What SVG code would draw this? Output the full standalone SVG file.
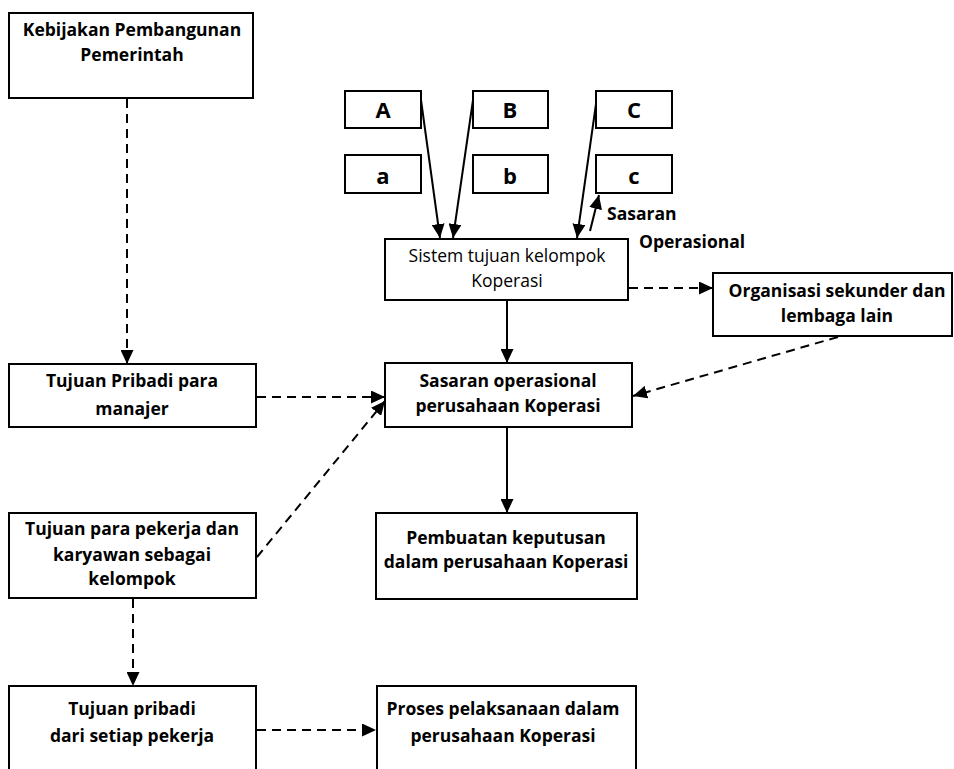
<svg xmlns="http://www.w3.org/2000/svg" width="954" height="769" viewBox="0 0 954 769">
  <style>
    .box { fill: #fff; stroke: #000; stroke-width: 2; }
    .t { font-family: "Open Sans", "Liberation Sans", sans-serif; font-size: 17.5px; font-weight: bold; fill: #000; text-anchor: middle; }
    .r { font-weight: normal; }
    .big { font-size: 22px; }
    .lbl { text-anchor: start; }
    .solid { stroke: #000; stroke-width: 2; fill: none; marker-end: url(#arrow); }
    .dash { stroke: #000; stroke-width: 2; fill: none; stroke-dasharray: 9 6; marker-end: url(#arrow); }
  </style>
  <defs>
    <marker id="arrow" markerUnits="userSpaceOnUse" markerWidth="15" markerHeight="13" refX="14" refY="6.5" orient="auto">
      <path d="M0,0 L14,6.5 L0,13 Z" fill="#000"/>
    </marker>
  </defs>

  <rect width="954" height="769" fill="#fff"/>

  <!-- connectors -->
  <g id="connectors">
    <line class="dash" x1="127" y1="99" x2="127" y2="364"/>
    <line class="solid" x1="421" y1="100" x2="440" y2="238"/>
    <line class="solid" x1="473" y1="100" x2="453" y2="238"/>
    <line class="solid" x1="596" y1="104" x2="577" y2="238"/>
    <line class="solid" x1="590" y1="231" x2="599" y2="195"/>
    <line class="dash" x1="629" y1="288" x2="713" y2="288"/>
    <line class="solid" x1="507" y1="301" x2="507" y2="363"/>
    <line class="dash" x1="838" y1="337" x2="633" y2="396"/>
    <line class="dash" x1="257" y1="397" x2="385" y2="397"/>
    <line class="dash" x1="257" y1="557" x2="385" y2="401"/>
    <line class="solid" x1="507" y1="428" x2="507" y2="513"/>
    <line class="dash" x1="133" y1="599" x2="133" y2="686"/>
    <line class="dash" x1="257" y1="730" x2="376" y2="730"/>
  </g>

  <g id="kebijakan">
    <rect class="box" x="9" y="13" width="244" height="85"/>
    <text class="t" x="132" y="36">Kebijakan Pembangunan</text>
    <text class="t" x="132" y="61">Pemerintah</text>
  </g>

  <g id="A"><rect class="box" x="345" y="91" width="76" height="37"/><text class="t big" x="383" y="118">A</text></g>
  <g id="B"><rect class="box" x="473" y="91" width="75" height="37"/><text class="t big" x="510" y="118">B</text></g>
  <g id="C"><rect class="box" x="596" y="91" width="76" height="37"/><text class="t big" x="634" y="118">C</text></g>
  <g id="a"><rect class="box" x="345" y="155" width="76" height="38"/><text class="t big" x="383" y="184">a</text></g>
  <g id="b"><rect class="box" x="473" y="155" width="75" height="38"/><text class="t big" x="510" y="184">b</text></g>
  <g id="c"><rect class="box" x="596" y="155" width="76" height="38"/><text class="t big" x="634" y="184">c</text></g>

  <g id="sasaran-label">
    <text class="t lbl" x="607" y="220">Sasaran</text>
    <text class="t lbl" x="639" y="248">Operasional</text>
  </g>

  <g id="sistem">
    <rect class="box" x="385" y="239" width="243" height="61"/>
    <text class="t r" x="507" y="262">Sistem tujuan kelompok</text>
    <text class="t r" x="507" y="287">Koperasi</text>
  </g>

  <g id="organisasi">
    <rect class="box" x="713" y="273" width="239" height="63"/>
    <text class="t" x="837" y="297">Organisasi sekunder dan</text>
    <text class="t" x="837" y="322">lembaga lain</text>
  </g>

  <g id="manajer">
    <rect class="box" x="9" y="364" width="247" height="63"/>
    <text class="t" x="132" y="387">Tujuan Pribadi para</text>
    <text class="t" x="132" y="415">manajer</text>
  </g>

  <g id="sasaran-operasional">
    <rect class="box" x="385" y="363" width="247" height="64"/>
    <text class="t" x="508" y="387">Sasaran operasional</text>
    <text class="t" x="508" y="412">perusahaan Koperasi</text>
  </g>

  <g id="pekerja">
    <rect class="box" x="9" y="513" width="247" height="85"/>
    <text class="t" x="132" y="535">Tujuan para pekerja dan</text>
    <text class="t" x="132" y="561">karyawan sebagai</text>
    <text class="t" x="132" y="585">kelompok</text>
  </g>

  <g id="pembuatan">
    <rect class="box" x="376" y="513" width="261" height="86"/>
    <text class="t" x="506" y="544">Pembuatan keputusan</text>
    <text class="t" x="506" y="568">dalam perusahaan Koperasi</text>
  </g>

  <g id="pribadi">
    <rect class="box" x="9" y="686" width="247" height="100"/>
    <text class="t" x="132" y="715">Tujuan pribadi</text>
    <text class="t" x="132" y="742">dari setiap pekerja</text>
  </g>

  <g id="proses">
    <rect class="box" x="377" y="686" width="259" height="100"/>
    <text class="t" x="503" y="715">Proses pelaksanaan dalam</text>
    <text class="t" x="503" y="742">perusahaan Koperasi</text>
  </g>
</svg>
